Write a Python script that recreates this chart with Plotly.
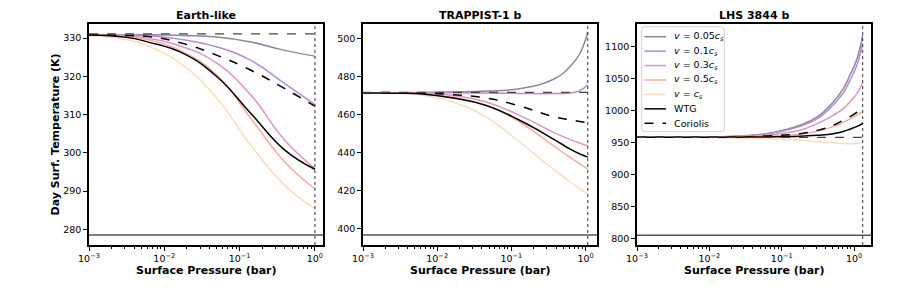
import plotly.graph_objects as go

# ---------------- data ----------------
panel_titles = ["Earth-like", "TRAPPIST-1 b", "LHS 3844 b"]
series_labels = ["<i>v</i> = 0.05<i>c<sub>s</sub></i>", "<i>v</i> = 0.1<i>c<sub>s</sub></i>",
                 "<i>v</i> = 0.3<i>c<sub>s</sub></i>", "<i>v</i> = 0.5<i>c<sub>s</sub></i>",
                 "<i>v</i> = <i>c<sub>s</sub></i>", "WTG", "Coriolis"]
series_keys = ["v005", "v01", "v03", "v05", "v1", "wtg", "cor"]

# Earth-like
p_earth = [0.001, 0.00316, 0.0063, 0.0178, 0.0501, 0.141, 0.398, 1.0]
earth = {
    "v005": [330.9, 330.9, 330.9, 330.7, 330.3, 329.0, 326.8, 325.3],
    "v01":  [330.9, 330.8, 330.6, 329.6, 327.7, 324.2, 318.1, 312.6],
    "v03":  [330.9, 330.6, 329.9, 327.7, 323.4, 315.1, 303.3, 295.9],
    "v05":  [330.8, 330.4, 329.5, 326.4, 320.3, 309.0, 297.6, 290.6],
    "v1":   [330.7, 329.6, 327.8, 322.9, 314.2, 302.0, 291.5, 285.4],
    "wtg":  [330.8, 330.2, 328.9, 326.0, 319.9, 310.3, 300.7, 295.7],
    "cor":  [330.9, 330.7, 330.4, 328.6, 325.5, 321.6, 316.8, 312.2],
}
# TRAPPIST-1 b
p_trap = [0.001, 0.00316, 0.0058, 0.0163, 0.0459, 0.129, 0.364, 0.611, 0.834, 1.07]
trap = {
    "v005": [471.5, 471.5, 471.6, 471.9, 472.3, 473.6, 478.4, 484.9, 491.9, 503.3],
    "v01":  [471.5, 471.5, 471.5, 471.4, 471.3, 471.1, 471.0, 471.3, 472.5, 475.6],
    "v03":  [471.5, 471.4, 471.2, 470.0, 466.6, 459.6, 450.8, 447.0, 445.1, 443.5],
    "v05":  [471.5, 471.2, 470.9, 469.2, 464.8, 456.1, 443.8, 437.7, 434.2, 431.5],
    "v1":   [471.5, 471.1, 470.4, 466.6, 458.7, 445.6, 431.5, 424.9, 421.0, 418.4],
    "wtg":  [471.5, 471.2, 470.9, 468.7, 464.8, 457.0, 447.3, 442.0, 439.4, 437.7],
    "cor":  [471.5, 471.5, 471.4, 470.4, 468.7, 464.5, 459.0, 457.3, 456.4, 455.7],
}
# LHS 3844 b
p_lhs = [0.001, 0.00316, 0.0074, 0.0214, 0.0617, 0.178, 0.309, 0.513, 0.708, 0.871, 1.096, 1.306]
lhs = {
    "v005": [958.4, 958.4, 958.6, 960.0, 964.0, 977.2, 990.2, 1013.6, 1034.4, 1055.3, 1081.3, 1118.0],
    "v01":  [958.4, 958.4, 958.5, 959.8, 963.5, 975.5, 987.5, 1009.0, 1028.0, 1047.0, 1072.0, 1105.0],
    "v03":  [958.4, 958.4, 958.4, 959.4, 962.0, 969.4, 979.8, 992.8, 1003.2, 1013.6, 1027.0, 1043.7],
    "v05":  [958.4, 958.4, 958.4, 958.7, 960.2, 963.2, 967.8, 975.0, 982.0, 987.0, 993.0, 999.0],
    "v1":   [958.4, 958.4, 958.0, 957.2, 956.3, 953.6, 951.8, 950.0, 948.8, 948.4, 948.6, 950.0],
    "wtg":  [958.4, 958.4, 958.4, 958.5, 959.0, 960.0, 961.6, 964.0, 967.5, 971.0, 975.5, 980.3],
    "cor":  [958.4, 958.4, 958.4, 958.8, 960.5, 964.0, 969.2, 977.2, 985.0, 990.2, 997.7, 1005.3],
}
ref_solid = [278.5, 396.9, 805.3]      # grey solid horizontal line
ref_dashed = [331.1, 471.6, 958.4]     # dashed horizontal line
ref_dotted_p = [1.0, 1.07, 1.31]       # dotted vertical line (bar)

x_tickvals = [0.001, 0.01, 0.1, 1]
x_ticktext = ["10<sup>\u22123</sup>", "10<sup>\u22122</sup>", "10<sup>\u22121</sup>", "10<sup>0</sup>"]
y_ticks = [[280, 290, 300, 310, 320, 330],
           [400, 420, 440, 460, 480, 500],
           [800, 850, 900, 950, 1000, 1050, 1100]]

# ---------------- style ----------------
W, H = 897, 299
FONT = "DejaVu Sans"
colors = {"v005": "#8c869f", "v01": "#b58dc9", "v03": "#da97c4", "v05": "#f8aba3",
          "v1": "#fddcbd", "wtg": "#000000", "cor": "#000000"}
dashes = {k: "solid" for k in series_keys}
dashes["cor"] = "dash"
order = ["v005", "v01", "v03", "v05", "v1", "wtg", "cor"]

def fx(v): return v / W
def fy(v): return 1 - v / H

x_doms = [(89, 323), (363, 597), (637, 871)]
y_dom = [fy(245), fy(24)]
x_ranges = [[-3, 0.107], [-3, 0.154], [-3, 0.232]]
y_ranges = [[275.9, 333.7], [391.6, 507.5], [790, 1135.5]]
minor_vals = [k * 10 ** e for e in (-3, -2, -1, 0) for k in range(2, 10)]

panels = [(p_earth, earth), (p_trap, trap), (p_lhs, lhs)]

fig = go.Figure()
for i, (pp, dat) in enumerate(panels):
    xa = "x" if i == 0 else f"x{i+1}"
    ya = "y" if i == 0 else f"y{i+1}"
    for k in order:
        fig.add_trace(go.Scatter(
            x=pp, y=dat[k], mode="lines", xaxis=xa, yaxis=ya, showlegend=False, hoverinfo="skip",
            line=dict(color=colors[k], width=1.5, dash=dashes[k], shape="spline", smoothing=1.3)))
    # reference lines
    fig.add_shape(type="line", xref=f"{xa} domain", yref=ya, x0=0, x1=1,
                  y0=ref_solid[i], y1=ref_solid[i], line=dict(color="#555555", width=1.5), layer="above")
    fig.add_shape(type="line", xref=f"{xa} domain", yref=ya, x0=0, x1=1,
                  y0=ref_dashed[i], y1=ref_dashed[i], line=dict(color="#444444", width=1.3, dash="dash"), layer="above")
    fig.add_shape(type="line", xref=xa, yref=f"{ya} domain", x0=ref_dotted_p[i], x1=ref_dotted_p[i], y0=0, y1=1,
                  line=dict(color="#333333", width=1, dash="dot"), layer="above")

axis_common = dict(showline=True, mirror=True, linewidth=1.6, linecolor="black", showgrid=False,
                   zeroline=False, ticks="outside", ticklen=4, tickwidth=1, tickcolor="black",
                   automargin=False,
                   tickfont=dict(family=FONT, size=9.5, color="black"))
layout = {}
for i in range(3):
    xk = "xaxis" if i == 0 else f"xaxis{i+1}"
    yk = "yaxis" if i == 0 else f"yaxis{i+1}"
    layout[xk] = dict(axis_common, type="log", range=x_ranges[i],
                      domain=[fx(x_doms[i][0]), fx(x_doms[i][1])],
                      anchor="y" if i == 0 else f"y{i+1}",
                      tickmode="array", tickvals=x_tickvals, ticktext=x_ticktext,
                      minor=dict(tickmode="array", tickvals=minor_vals, ticks="outside",
                                 ticklen=2.2, tickwidth=0.8, tickcolor="black", showgrid=False))
    layout[yk] = dict(axis_common, range=y_ranges[i], domain=y_dom,
                      anchor="x" if i == 0 else f"x{i+1}",
                      tickmode="array", tickvals=y_ticks[i])

fig.update_layout(template="none", **layout)

ann = []
for i in range(3):
    cx = fx((x_doms[i][0] + x_doms[i][1]) / 2)
    ann.append(dict(text=f"<b>{panel_titles[i]}</b>", x=cx, y=fy(16), xref="paper", yref="paper",
                    showarrow=False, xanchor="center", yanchor="middle",
                    font=dict(family=FONT, size=11, color="black")))
    ann.append(dict(text="<b>Surface Pressure (bar)</b>", x=cx, y=fy(270), xref="paper", yref="paper",
                    showarrow=False, xanchor="center", yanchor="middle",
                    font=dict(family=FONT, size=11, color="black")))
ann.append(dict(text="<b>Day Surf. Temperature (K)</b>", x=fx(55), y=fy(134.5), xref="paper", yref="paper",
                showarrow=False, xanchor="center", yanchor="middle", textangle=-90,
                font=dict(family=FONT, size=11, color="black")))

# manual legend (matplotlib-style) in the LHS 3844 b panel
bx0, bx1, by0, by1, r = 641.7, 724.3, 26.7, 131.7, 3
path = (f"M {fx(bx0+r)},{fy(by0)} L {fx(bx1-r)},{fy(by0)} Q {fx(bx1)},{fy(by0)} {fx(bx1)},{fy(by0+r)} "
        f"L {fx(bx1)},{fy(by1-r)} Q {fx(bx1)},{fy(by1)} {fx(bx1-r)},{fy(by1)} "
        f"L {fx(bx0+r)},{fy(by1)} Q {fx(bx0)},{fy(by1)} {fx(bx0)},{fy(by1-r)} "
        f"L {fx(bx0)},{fy(by0+r)} Q {fx(bx0)},{fy(by0)} {fx(bx0+r)},{fy(by0)} Z")
fig.add_shape(type="path", path=path, xref="paper", yref="paper",
              fillcolor="rgba(255,255,255,0.8)", line=dict(color="#d0d0d0", width=1), layer="above")
for j, k in enumerate(order):
    ry = 36.7 + 14.43 * j
    fig.add_shape(type="line", xref="paper", yref="paper", x0=fx(644.5), x1=fx(666), y0=fy(ry), y1=fy(ry),
                  line=dict(color=colors[k], width=1.5, dash=dashes[k]), layer="above")
    ann.append(dict(text=series_labels[j], x=fx(671.5), y=fy(ry), xref="paper", yref="paper",
                    showarrow=False, xanchor="left", yanchor="middle",
                    font=dict(family=FONT, size=9.5, color="black")))

fig.update_layout(annotations=ann, width=W, height=H, margin=dict(l=0, r=0, t=0, b=0, pad=0),
                  paper_bgcolor="white", plot_bgcolor="white", showlegend=False,
                  font=dict(family=FONT, color="black"))
fig.write_html("out.html", config={"displayModeBar": False},
               post_script="document.body.style.margin='0';")
